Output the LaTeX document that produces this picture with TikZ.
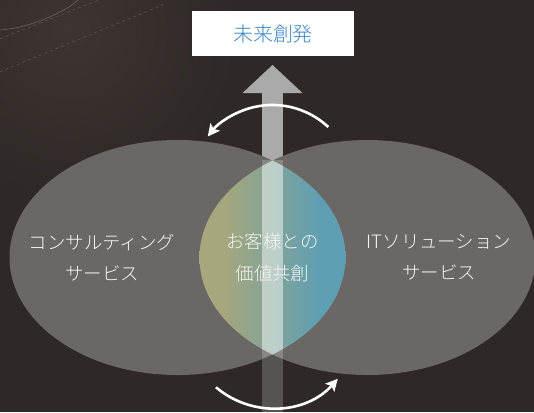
\documentclass[tikz,border=0pt]{standalone}
\usepackage{fontspec}
\newfontfamily\jp{Noto Sans CJK JP Light}
\usetikzlibrary{arrows.meta}
\definecolor{bgc}{HTML}{2E2826}
\definecolor{bgl}{HTML}{3D3531}
\definecolor{ellc}{HTML}{6B6765}
\definecolor{olivec}{HTML}{A6A77C}
\definecolor{bluec}{HTML}{5F9FB3}
\definecolor{shaftc}{HTML}{AAAAAA}
\definecolor{titlec}{HTML}{3A86C6}
\definecolor{photoln}{HTML}{5A524E}
\pgfdeclarehorizontalshading{lensshade}{100bp}{color(0bp)=(olivec); color(33bp)=(olivec); color(66bp)=(bluec); color(100bp)=(bluec)}
\tikzset{
  lbl/.style={font=\jp\fontsize{18.5}{31.6}\selectfont, text=white!92!gray, align=center, inner sep=0pt},
  titlebox/.style={fill=white, minimum width=162bp, minimum height=45bp, inner sep=0pt, font=\jp\fontsize{20}{24}\selectfont, text=titlec},
  cyc/.style={draw=white, line width=2.6bp, -{Stealth[length=12bp,width=12bp,inset=2.5bp]}},
  ellfill/.style={fill=ellc},
  photo/.style={draw=photoln, line width=0.7bp},
}
\begin{document}
\begin{tikzpicture}[x=1bp,y=-1bp]
\useasboundingbox (0,0) rectangle (534,412);
% background
\fill[bgc] (0,0) rectangle (534,412);
\shade[inner color=bgl, outer color=bgc] (70,30) circle[radius=170];
\draw[photo, dash pattern=on 3bp off 3bp] (0,71.7) -- (166.7,3.3);
\draw[photo, dash pattern=on 3bp off 3bp] (0,38.7) -- (99,0);
\draw[photo, draw=photoln!70!gray] (0,30) .. controls (30,28) and (65,12) .. (78,0);
% upward arrow (solid part)
\fill[shaftc] (262,90) rectangle (283,200);
\fill[shaftc] (242.5,93) -- (272.5,65) -- (302.5,93) -- cycle;
% ellipses
\fill[ellfill] (177.5,257.5) ellipse[x radius=168, y radius=117.5];
\fill[ellfill] (367.5,257.5) ellipse[x radius=168, y radius=117.5];
% lens
\begin{scope}
\clip (177.5,257.5) ellipse[x radius=168, y radius=117.5];
\clip (367.5,257.5) ellipse[x radius=168, y radius=117.5];
\shade[shading=lensshade] (199.5,140) rectangle (345.5,375);
\fill[white, opacity=0.35] (262,140) rectangle (283,375);
\end{scope}
% translucent shaft over ellipses
\fill[white, opacity=0.2] (262,159.5) rectangle (283,412);
% title
\node[titlebox] (title) at (273,33.5) {未来創発};
% labels
\node[lbl] (consult) at (102,257.5) {コンサルティング\\サービス};
\node[lbl] (cocreate) at (272.5,257.5) {お客様との\\価値共創};
\node[lbl] (itsol) at (439,257.5) {ITソリューション\\サービス};
% cycle arrows
\coordinate (tstart) at (328.3,127);
\draw[cyc] (tstart) arc[start angle=-47, end angle=-142, radius=82];
\coordinate (bstart) at (216,387.3);
\draw[cyc] (bstart) arc[start angle=130.3, end angle=41.7, radius=87.4];
\end{tikzpicture}
\end{document}
